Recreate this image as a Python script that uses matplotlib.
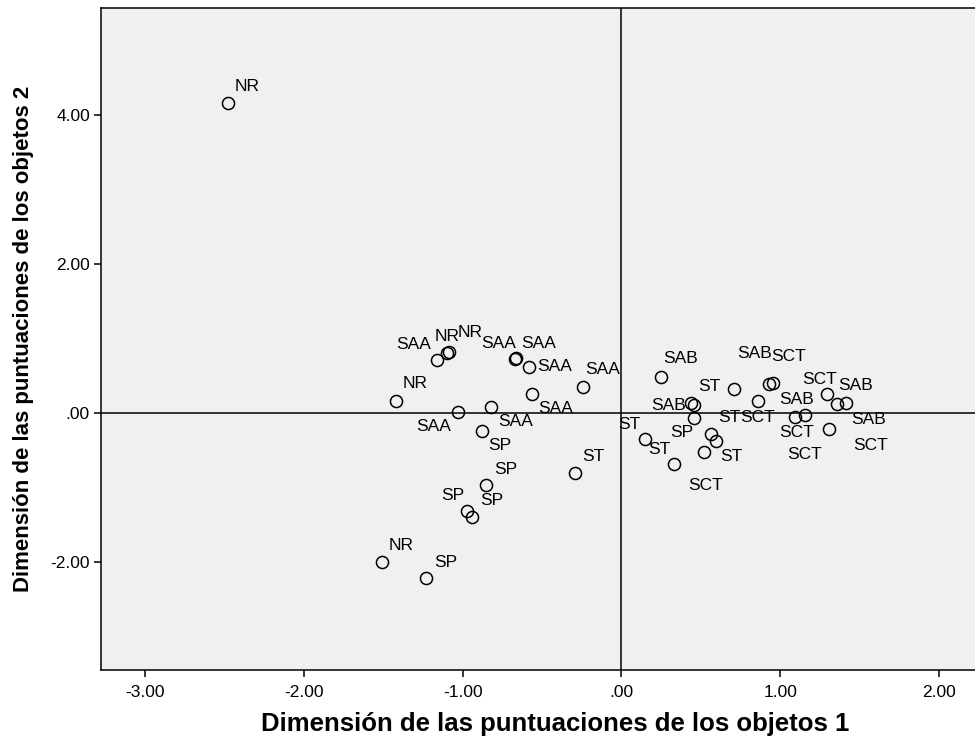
import matplotlib
matplotlib.use("Agg")
import matplotlib.pyplot as plt
from matplotlib.ticker import FuncFormatter

# object scores (dimension 1, dimension 2) and their category labels
dim1 = [
    -2.478, -1.160, -1.100, -1.090, -0.670, -0.665, -0.580, -0.240, -1.419, -1.028,
    -0.820, -0.561, -0.876, -0.851, -0.971, -0.939, -0.290, -1.507, -1.230,
    0.252, 0.706, 0.927, 0.952, 0.858, 0.435, 0.454, 0.454, 0.145, 0.561,
    0.593, 0.523, 0.334, 1.293, 1.356, 1.412, 1.091, 1.154, 1.305,
]
dim2 = [
    4.17, 0.715, 0.81, 0.82, 0.73, 0.735, 0.62, 0.35, 0.166, 0.017,
    0.085, 0.26, -0.24, -0.96, -1.31, -1.39, -0.81, -2.00, -2.22,
    0.49, 0.33, 0.39, 0.40, 0.165, 0.14, 0.11, -0.063, -0.345, -0.279,
    -0.37, -0.52, -0.68, 0.26, 0.125, 0.138, -0.05, -0.023, -0.21,
]
labels = [
    "NR", "SAA", "NR", "NR", "SAA", "SAA", "SAA", "SAA", "NR", "SAA",
    "SAA", "SAA", "SP", "SP", "SP", "SP", "ST", "NR", "SP",
    "SAB", "ST", "SAB", "SCT", "SCT", "SAB", "SCT", "SP", "ST", "ST",
    "ST", "SCT", "ST", "SCT", "SAB", "SAB", "SAB", "SCT", "SCT",
]

x_ticks = [-3, -2, -1, 0, 1, 2]
y_ticks = [-2, 0, 2, 4]

# where each label sits relative to its point (pixels)
label_offsets = [
    (19, 16), (-24, 15), (0, 16), (22, 20), (-17, 15), (23, 15), (25, 0), (19, 18),
    (19, 17), (-25, -15), (24, -15), (23, -15), (17, -15), (19, 15), (-15, 15),
    (19, 16), (18, 17), (19, 17), (19, 16),
    (19, 18), (-24, 2), (-14, 31), (16, 27), (0, -17), (-22, -3), (111, -50),
    (-12, -15), (-15, 14), (19, 16), (16, -16), (1, -34), (-15, 14), (-7, 14),
    (19, 18), (23, -17), (2, 17), (-8, -18), (42, -17),
]

FONT = "Liberation Sans"


def fmt_tick(v, _pos):
    s = f"{v:.2f}"
    if s.startswith("0."):
        s = s[1:]
    elif s == "-0.00":
        s = ".00"
    return s


fig = plt.figure(figsize=(9.75, 7.44), dpi=100)
ax = fig.add_axes([101 / 975, 74 / 744, 1 - 101 / 975 + 0.002, (670 - 8) / 744])
ax.set_facecolor("#f0f0f0")

ax.axhline(0, color="black", linewidth=1.1, zorder=1)
ax.axvline(0, color="black", linewidth=1.1, zorder=1)

ax.plot(dim1, dim2, linestyle="none", marker="o", markersize=8.7,
        markerfacecolor="none", markeredgecolor="black", markeredgewidth=1.1, zorder=3)

for x, y, lab, (dx, dy) in zip(dim1, dim2, labels, label_offsets):
    ax.annotate(lab, (x, y), xytext=(dx, dy), textcoords="offset pixels",
                ha="center", va="center", fontsize=12.5, family=FONT, zorder=4)

ax.set_xlim(-3.28, 2.24)
ax.set_ylim(-3.45, 5.44)
ax.set_xticks(x_ticks)
ax.set_yticks(y_ticks)
ax.xaxis.set_major_formatter(FuncFormatter(fmt_tick))
ax.yaxis.set_major_formatter(FuncFormatter(fmt_tick))

for lab in ax.get_xticklabels() + ax.get_yticklabels():
    lab.set_family(FONT)
    lab.set_fontsize(12.5)
ax.tick_params(axis="x", direction="out", length=5, width=1.1, pad=6)
ax.tick_params(axis="y", direction="out", length=5, width=1.1, pad=3)

for side in ["left", "bottom", "top"]:
    ax.spines[side].set_linewidth(1.1)
    ax.spines[side].set_color("black")
ax.spines["right"].set_visible(False)

ax.set_xlabel("Dimensión de las puntuaciones de los objetos 1", family=FONT,
              fontsize=18.5, fontweight="bold")
ax.set_ylabel("Dimensión de las puntuaciones de los objetos 2", family=FONT,
              fontsize=16, fontweight="bold", labelpad=12)
# the SPSS title sits a little right of the visible axis centre
ax.xaxis.set_label_coords(0.519, -0.063)

fig.savefig("out.png", dpi=100)
